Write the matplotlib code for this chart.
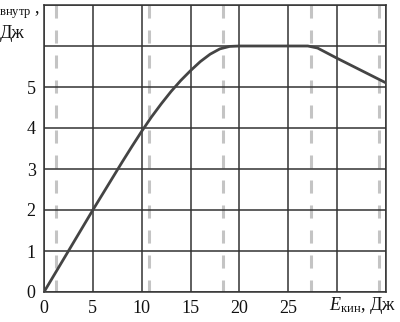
import matplotlib
matplotlib.use("Agg")
import matplotlib.pyplot as plt

plt.rcParams['font.family'] = ['Liberation Serif', 'DejaVu Serif']
plt.rcParams['mathtext.fontset'] = 'custom'
plt.rcParams['mathtext.rm'] = 'Liberation Serif'
plt.rcParams['mathtext.it'] = 'Liberation Serif:italic'
plt.rcParams['lines.scale_dashes'] = False

# data
e_kin = [0, 5, 8, 9, 10, 11, 12, 13, 14, 15, 16, 17, 18, 19, 20, 25, 27, 28, 30, 35]
e_int = [0, 2.0, 3.17, 3.55, 3.92, 4.27, 4.59, 4.89, 5.16, 5.4, 5.62, 5.8, 5.93, 5.99,
         6.0, 6.0, 6.0, 5.95, 5.7, 5.1]
dashed_x = [1.2, 10.7, 18.3, 27.35, 34.3]
x_ticks = [0, 5, 10, 15, 20, 25, 30, 35]
x_labels = ['0', '5', '10', '15', '20', '25', '', '']
y_ticks = [0, 1, 2, 3, 4, 5, 6, 7]
y_labels = ['0', '1', '2', '3', '4', '5', '', '']

fig = plt.figure(figsize=(4.0, 3.22), dpi=100)
ax = fig.add_axes([44/400, 1-292/322, (386-44)/400, (292-5)/322])
ax.set_xlim(0, 35)
ax.set_ylim(0, 7)

for xv in dashed_x:
    ax.plot([xv, xv], [7, 0], color='#c4c4c4', lw=2.2,
            linestyle=(0, (9.4, 8.6)), zorder=1, solid_capstyle='butt')

ax.set_xticks(x_ticks)
ax.set_xticklabels(x_labels)
ax.set_yticks(y_ticks)
ax.set_yticklabels(y_labels)
ax.grid(True, color='#333333', lw=1.1, zorder=2)
ax.set_axisbelow(False)
ax.tick_params(length=0, labelsize=13, colors='#111111')
ax.tick_params(axis='x', pad=6)
ax.tick_params(axis='y', pad=6)
for s in ax.spines.values():
    s.set_color('#333333')
    s.set_linewidth(1.1)

ax.plot(e_kin, e_int, color='#444444', lw=2.0, zorder=3, solid_joinstyle='round')

fig.text(329/400, 1-306/322, r'$E_{\mathrm{кин}}$, Дж', fontsize=13,
         va='center', ha='left', color='#111111')
fig.text(-12/400, 1-13/322, r'$E_{\mathrm{внутр}}$ ,', fontsize=13,
         va='baseline', ha='left', color='#111111')
fig.text(0/400, 1-38/322, 'Дж', fontsize=13, va='baseline', ha='left',
         color='#111111')

fig.savefig('out.png', dpi=100)
